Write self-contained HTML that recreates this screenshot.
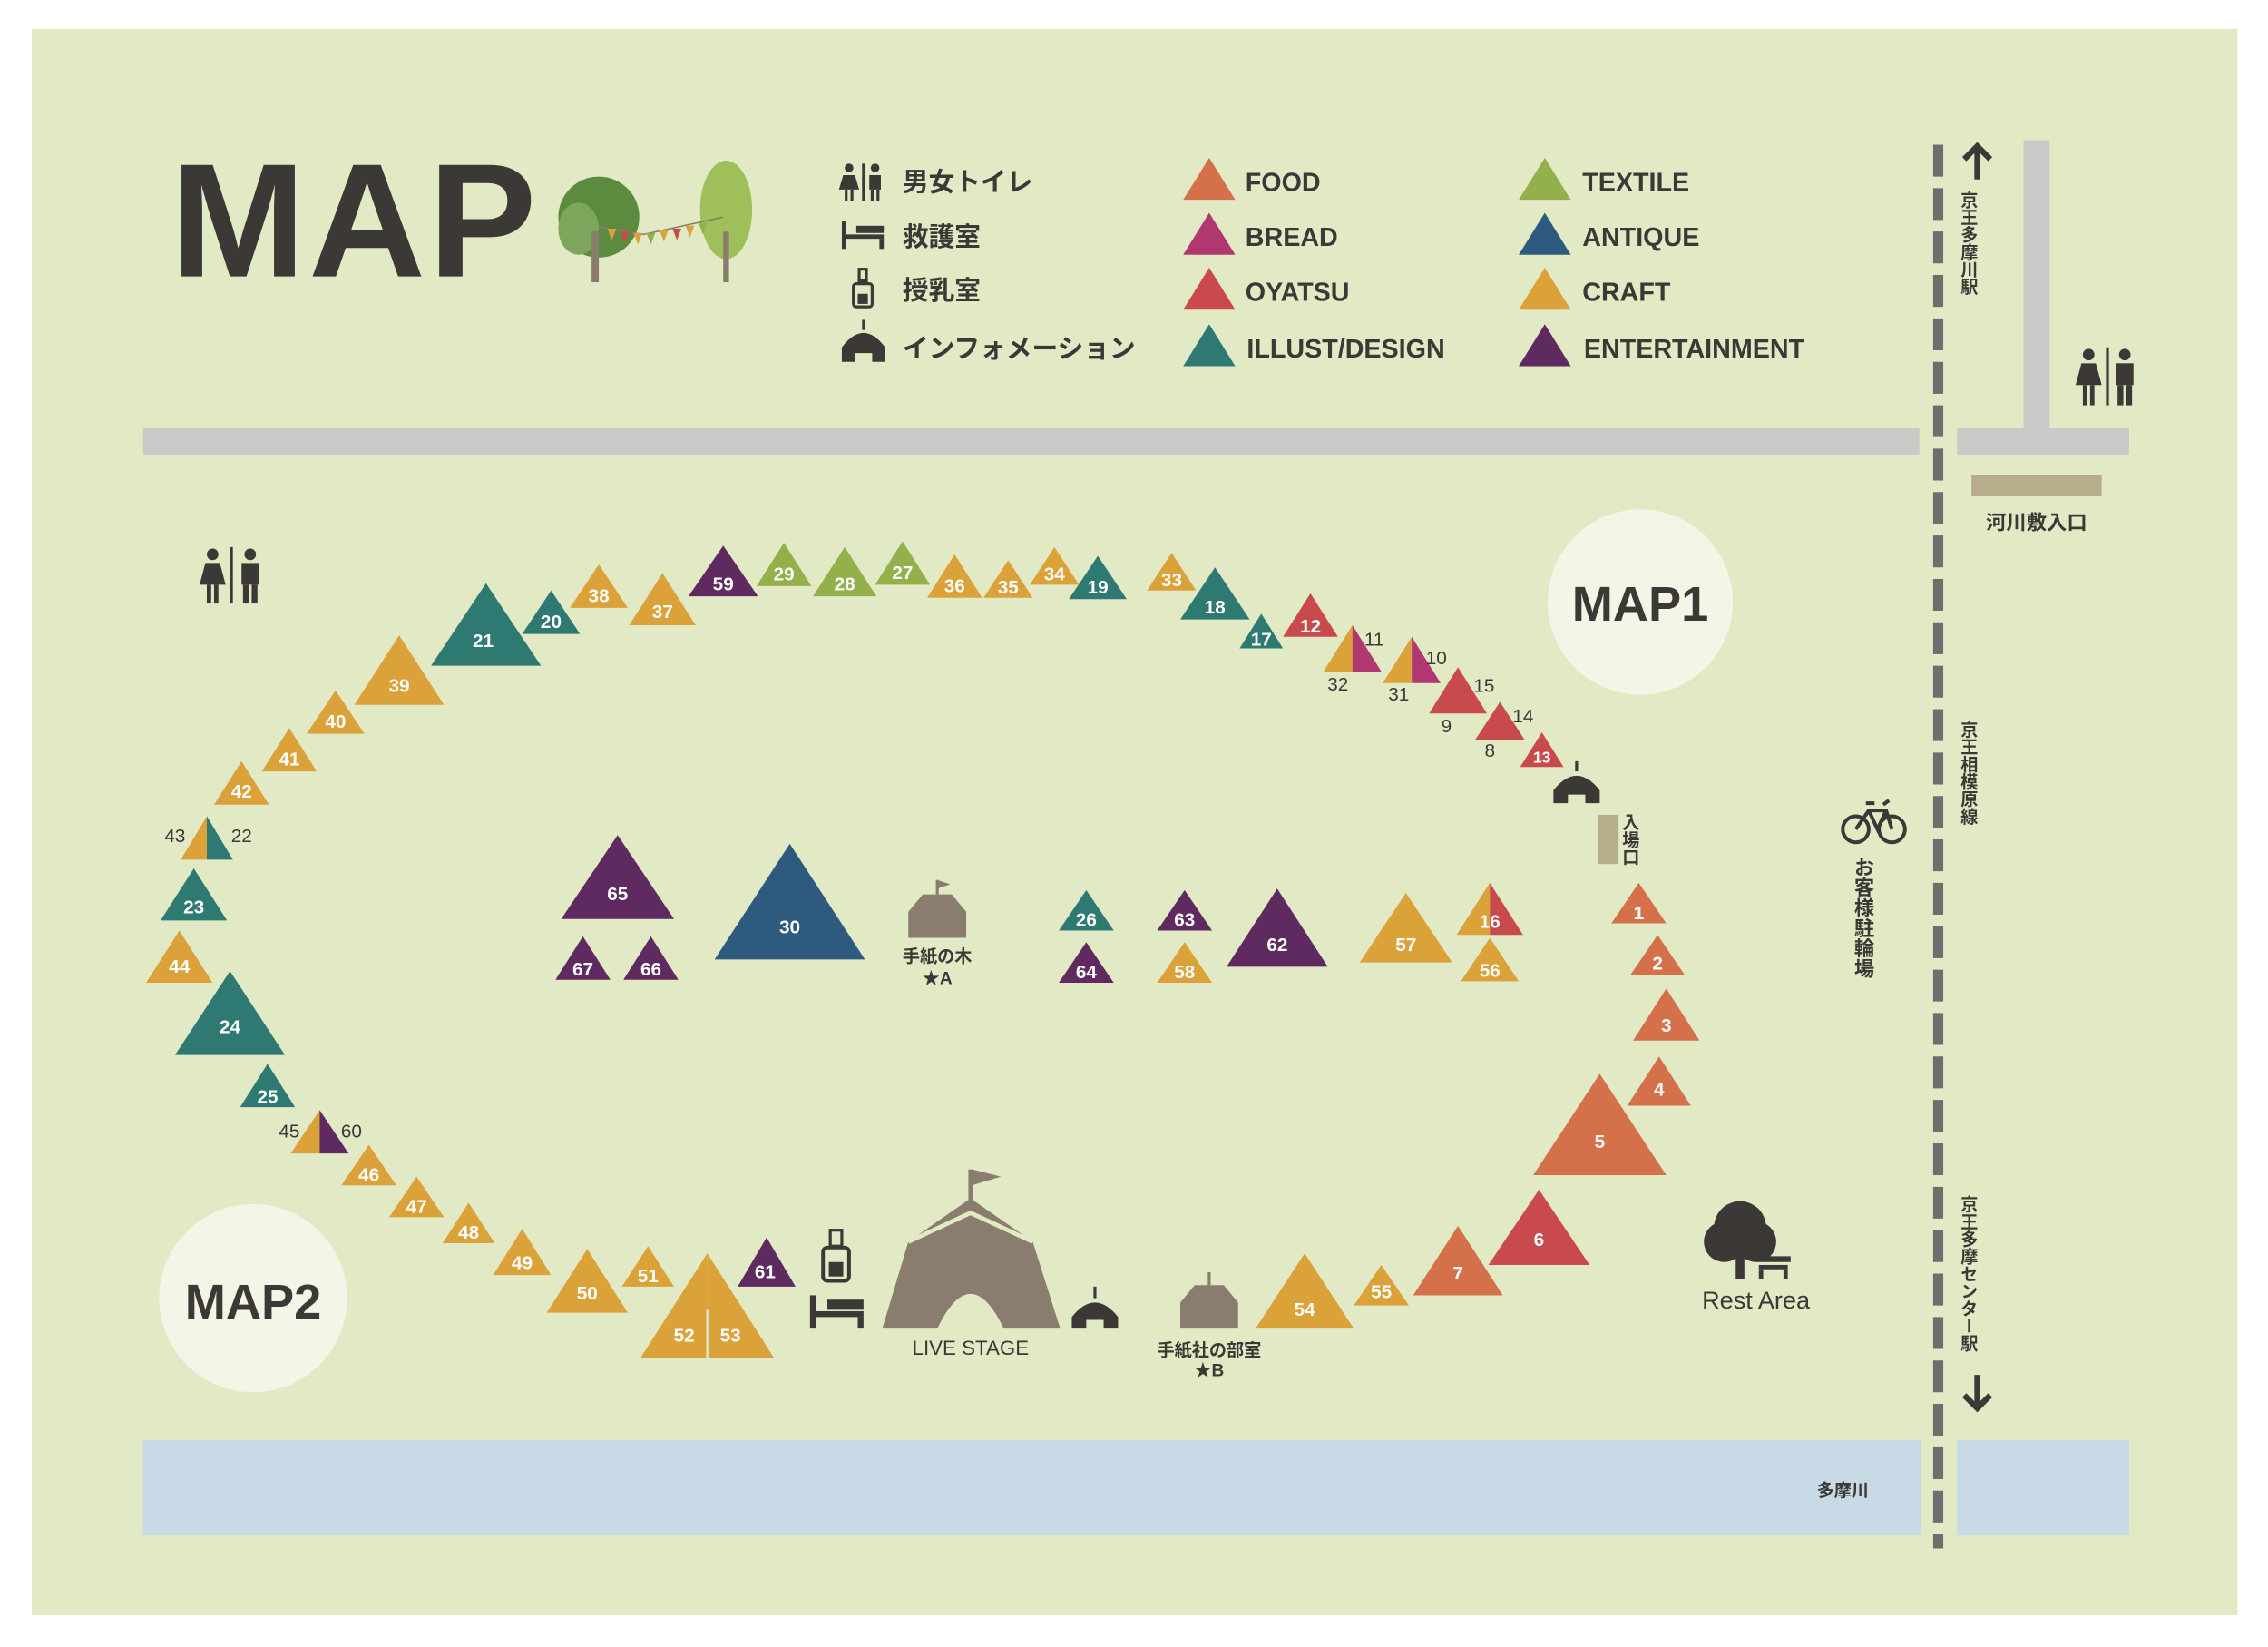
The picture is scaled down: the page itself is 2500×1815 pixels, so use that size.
<!DOCTYPE html>
<html><head><meta charset="utf-8"><style>
html,body{margin:0;padding:0;background:#fff}
svg{display:block}
text{font-family:"Liberation Sans","Noto Sans CJK JP",sans-serif}
.n{fill:#fff;font-size:13px;font-weight:bold;text-anchor:middle}
.o{fill:#3b3836;font-size:13px;text-anchor:middle}
.lg{fill:#3b3836;font-size:18px;font-weight:bold}
.vt{fill:#3b3836;font-size:12px;font-weight:bold;writing-mode:tb;glyph-orientation-vertical:0}
</style></head><body>
<svg width="2500" height="1815" viewBox="0 0 1568 1138" preserveAspectRatio="none" xmlns="http://www.w3.org/2000/svg">
<defs>
<symbol id="tent" viewBox="-50 -100 100 100" preserveAspectRatio="none" overflow="visible">
<polygon points="-50,0 0,-96 50,0"/>
</symbol>
</defs>
<rect x="0" y="0" width="1568" height="1138" fill="#fff"/>
<rect x="22" y="20" width="1525" height="1096" fill="#e1eac5"/>

<!-- roads -->
<rect x="99" y="296" width="1228" height="18" fill="#c9c9c7"/>
<rect x="1353" y="296" width="119" height="18" fill="#c9c9c7"/>
<rect x="1399" y="97" width="18" height="203" fill="#c9c9c7"/>
<rect x="1363" y="328" width="90" height="15" fill="#b7ad8c"/>
<text x="1408" y="366" class="lg" style="font-size:14px" text-anchor="middle">河川敷入口</text>
<!-- river -->
<rect x="99" y="995" width="1229" height="66" fill="#c8dae5"/>
<rect x="1353" y="995" width="119" height="66" fill="#c8dae5"/>
<text x="1274" y="1034" class="o" style="font-size:12px;font-weight:bold">多摩川</text>
<!-- rail -->
<line x1="1340" y1="100" x2="1340" y2="1070" stroke="#6e6e6e" stroke-width="7" stroke-dasharray="22 8"/>
<!-- arrows -->
<path d="M1367 124 V102 M1358 110 L1367 101 L1376 110" stroke="#3b3836" stroke-width="4" fill="none"/>
<text x="1360" y="132" class="vt">京王多摩川駅</text>
<text x="1360" y="498" class="vt">京王相模原線</text>
<text x="1360" y="826" class="vt">京王多摩センター駅</text>
<path d="M1367 950 V972 M1358 964 L1367 973 L1376 964" stroke="#3b3836" stroke-width="4" fill="none"/>

<!-- title -->
<text x="118" y="191" style="font-size:112px;font-weight:bold;fill:#3b3836;letter-spacing:2px">MAP</text>
<!-- trees -->
<ellipse cx="414" cy="150" rx="28" ry="28" fill="#5c8a3f"/>
<ellipse cx="400" cy="158" rx="14" ry="18" fill="#7da55b"/>
<rect x="409" y="160" width="5" height="35" fill="#8a7c6a"/>
<ellipse cx="502" cy="145" rx="18" ry="34" fill="#9fbf5a"/>
<rect x="500" y="160" width="4" height="35" fill="#8a7c6a"/>
<path d="M414 157 L445 162 L500 150" stroke="#8a7c6a" fill="none"/>
<g fill="#dca23a"><polygon points="420,158 426,158 423,166"/><polygon points="438,161 444,161 441,169"/><polygon points="456,159 462,159 459,167"/><polygon points="474,156 480,156 477,164"/></g>
<g fill="#c94a4d"><polygon points="429,160 435,160 432,168"/><polygon points="465,158 471,158 468,166"/></g>
<g fill="#94b04a"><polygon points="447,161 453,161 450,169"/><polygon points="483,154 489,154 486,162"/></g>

<!-- legend left -->
<g fill="#3b3836">
<circle cx="587" cy="116" r="3"/><polygon points="583,121 591,121 594,131 580,131"/><rect x="584" y="131" width="2" height="8"/><rect x="588" y="131" width="2" height="8"/>
<rect x="596" y="113" width="2" height="26"/>
<circle cx="605" cy="116" r="3"/><rect x="601" y="121" width="8" height="10"/><rect x="602" y="131" width="2" height="8"/><rect x="606" y="131" width="2" height="8"/>
<rect x="582" y="153" width="3" height="19"/><rect x="585" y="162" width="26" height="3"/><rect x="592" y="156" width="19" height="5"/><rect x="608" y="165" width="3" height="7"/>
<rect x="590" y="196" width="13" height="16" rx="2" fill="none" stroke="#3b3836" stroke-width="2"/><rect x="593" y="203" width="7" height="7"/><rect x="594" y="186" width="5" height="8" fill="none" stroke="#3b3836" stroke-width="2"/>
<path d="M582 250 V240 Q597 220 612 240 V250 H603 V244 H591 V250Z"/><line x1="597" y1="228" x2="597" y2="221" stroke="#3b3836" stroke-width="2"/>
</g>
<text x="624" y="132" class="lg">男女トイレ</text>
<text x="624" y="170" class="lg">救護室</text>
<text x="624" y="207" class="lg">授乳室</text>
<text x="624" y="247" class="lg">インフォメーション</text>

<!-- legend tents -->
<g>
<polygon points="818,138 836,109 854,138" fill="#d4714a"/><text x="861" y="132" class="lg">FOOD</text>
<polygon points="818,176 836,147 854,176" fill="#b0376f"/><text x="861" y="170" class="lg">BREAD</text>
<polygon points="818,214 836,185 854,214" fill="#c94a4d"/><text x="861" y="208" class="lg">OYATSU</text>
<polygon points="818,253 836,224 854,253" fill="#2e7a72"/><text x="862" y="247" class="lg">ILLUST/DESIGN</text>
<polygon points="1050,138 1068,109 1086,138" fill="#94b04a"/><text x="1094" y="132" class="lg">TEXTILE</text>
<polygon points="1050,176 1068,147 1086,176" fill="#2d5a7e"/><text x="1094" y="170" class="lg">ANTIQUE</text>
<polygon points="1050,214 1068,185 1086,214" fill="#dca23a"/><text x="1094" y="208" class="lg">CRAFT</text>
<polygon points="1050,253 1068,224 1086,253" fill="#5e2a5f"/><text x="1095" y="247" class="lg">ENTERTAINMENT</text>
</g>

<!-- toilets -->
<g fill="#3b3836">
<circle cx="1444" cy="245" r="4"/><polygon points="1439,251 1449,251 1453,266 1435,266"/><rect x="1440" y="266" width="3" height="14"/><rect x="1445" y="266" width="3" height="14"/>
<rect x="1456" y="240" width="2" height="40"/>
<circle cx="1469" cy="245" r="4"/><rect x="1463" y="251" width="12" height="15"/><rect x="1464" y="266" width="4" height="14"/><rect x="1470" y="266" width="4" height="14"/>
<circle cx="147" cy="383" r="4"/><polygon points="142,389 152,389 156,404 138,404"/><rect x="143" y="404" width="3" height="13"/><rect x="148" y="404" width="3" height="13"/>
<rect x="159" y="378" width="2" height="39"/>
<circle cx="173" cy="383" r="4"/><rect x="167" y="389" width="12" height="15"/><rect x="168" y="404" width="4" height="13"/><rect x="174" y="404" width="4" height="13"/>
</g>

<!-- MAP circles -->
<circle cx="1134" cy="416" r="64" fill="#f3f5e7"/>
<text x="1134" y="429" style="font-size:34px;font-weight:bold;fill:#3b3836" text-anchor="middle">MAP1</text>
<circle cx="175" cy="897" r="65" fill="#f3f5e7"/>
<text x="175" y="911" style="font-size:34px;font-weight:bold;fill:#3b3836" text-anchor="middle">MAP2</text>

<!-- tents: polygon(cx-w/2,b cx,b-h cx+w/2,b) -->
<g id="tents">
<!-- top arc -->
<polygon points="298,460 336,403 374,460" fill="#2e7a72"/><text x="334" y="447" class="n">21</text>
<polygon points="361,438 381,408 401,438" fill="#2e7a72"/><text x="381" y="434" class="n">20</text>
<polygon points="394,420 414,390 434,420" fill="#dca23a"/><text x="414" y="416" class="n">38</text>
<polygon points="435,432 458,396 481,432" fill="#dca23a"/><text x="458" y="427" class="n">37</text>
<polygon points="476,412 500,377 524,412" fill="#5e2a5f"/><text x="500" y="408" class="n">59</text>
<polygon points="523,405 542,375 561,405" fill="#94b04a"/><text x="542" y="401" class="n">29</text>
<polygon points="562,412 584,378 606,412" fill="#94b04a"/><text x="584" y="408" class="n">28</text>
<polygon points="605,404 624,374 643,404" fill="#94b04a"/><text x="624" y="400" class="n">27</text>
<polygon points="641,413 660,383 679,413" fill="#dca23a"/><text x="660" y="409" class="n">36</text>
<polygon points="680,413 697,387 714,413" fill="#dca23a"/><text x="697" y="410" class="n">35</text>
<polygon points="712,404 729,378 746,404" fill="#dca23a"/><text x="729" y="401" class="n">34</text>
<polygon points="739,414 759,384 779,414" fill="#2e7a72"/><text x="759" y="410" class="n">19</text>
<polygon points="793,408 810,382 827,408" fill="#dca23a"/><text x="810" y="405" class="n">33</text>
<polygon points="816,428 840,392 864,428" fill="#2e7a72"/><text x="840" y="424" class="n">18</text>
<polygon points="857,448 872,424 887,448" fill="#2e7a72"/><text x="872" y="446" class="n">17</text>
<polygon points="887,440 906,410 925,440" fill="#c94a4d"/><text x="906" y="437" class="n">12</text>
<polygon points="915,464 935,432 935,464" fill="#dca23a"/><polygon points="935,464 935,432 955,464" fill="#b0376f"/>
<text x="950" y="446" class="o">11</text><text x="925" y="477" class="o">32</text>
<polygon points="956,472 976,440 976,472" fill="#dca23a"/><polygon points="976,472 976,440 996,472" fill="#b0376f"/>
<text x="993" y="459" class="o">10</text><text x="967" y="484" class="o">31</text>
<polygon points="988,493 1008,461 1028,493" fill="#c94a4d"/><text x="1026" y="478" class="o">15</text><text x="1000" y="506" class="o">9</text>
<polygon points="1020,511 1037,485 1054,511" fill="#c94a4d"/><text x="1053" y="499" class="o">14</text><text x="1030" y="523" class="o">8</text>
<polygon points="1051,530 1066,506 1081,530" fill="#c94a4d"/><text x="1066" y="527" class="n" style="font-size:11px">13</text>
<!-- info hut -->
<path d="M1074 555 V546 Q1090 526 1106 546 V555 H1096 V549 H1084 V555Z" fill="#3b3836"/><line x1="1090" y1="533" x2="1090" y2="526" stroke="#3b3836" stroke-width="2"/>
<rect x="1105" y="563" width="14" height="34" fill="#b7ad8c"/>
<text x="1126" y="562" class="vt">入場口</text>
<!-- right column -->
<polygon points="1114,638 1133,610 1152,638" fill="#d4714a"/><text x="1133" y="635" class="n">1</text>
<polygon points="1127,674 1146,646 1165,674" fill="#d4714a"/><text x="1146" y="670" class="n">2</text>
<polygon points="1129,719 1152,683 1175,719" fill="#d4714a"/><text x="1152" y="713" class="n">3</text>
<polygon points="1125,764 1147,730 1169,764" fill="#d4714a"/><text x="1147" y="757" class="n">4</text>
<polygon points="1060,812 1106,742 1152,812" fill="#d4714a"/><text x="1106" y="793" class="n">5</text>
<polygon points="1029,874 1064,822 1099,874" fill="#c94a4d"/><text x="1064" y="861" class="n">6</text>
<polygon points="977,895 1008,847 1039,895" fill="#d4714a"/><text x="1008" y="884" class="n">7</text>
<polygon points="936,902 955,874 974,902" fill="#dca23a"/><text x="955" y="897" class="n">55</text>
<polygon points="868,918 902,866 936,918" fill="#dca23a"/><text x="902" y="909" class="n">54</text>
<!-- 手紙社の部室 -->
<path d="M816 918 V900 L826 888 H846 L856 900 V918Z" fill="#8a7c6e"/><line x1="836" y1="888" x2="836" y2="879" stroke="#8a7c6e" stroke-width="2"/>
<text x="836" y="937" class="o" style="font-weight:bold;font-size:12px">手紙社の部室</text>
<text x="836" y="951" class="o" style="font-weight:bold;font-size:12px">★B</text>
<path d="M741 918 V910 Q757 890 773 910 V918 H763 V912 H751 V918Z" fill="#3b3836"/><line x1="757" y1="897" x2="757" y2="889" stroke="#3b3836" stroke-width="2"/>
<!-- LIVE STAGE -->
<path d="M610 918 L628 858 L671 828 L714 858 L733 918 H694 Q671 870 648 918Z" fill="#8a7c6e"/>
<path d="M628 858 L671 838 L714 858" stroke="#e1eac5" stroke-width="3" fill="none"/>
<line x1="671" y1="830" x2="671" y2="808" stroke="#8a7c6e" stroke-width="3"/><polygon points="672,808 692,813 672,819" fill="#8a7c6e"/>
<text x="671" y="936" class="o" style="font-size:14px">LIVE STAGE</text>
<!-- bed, bottle -->
<g fill="#3b3836"><rect x="560" y="895" width="4" height="23"/><rect x="564" y="906" width="33" height="4"/><rect x="572" y="898" width="25" height="7"/><rect x="593" y="910" width="4" height="8"/></g>
<rect x="569" y="862" width="18" height="23" rx="3" fill="none" stroke="#3b3836" stroke-width="2.5"/><rect x="573" y="872" width="10" height="10" fill="#3b3836"/><rect x="574" y="850" width="8" height="11" fill="none" stroke="#3b3836" stroke-width="2"/>
<polygon points="510,889 530,855 550,889" fill="#5e2a5f"/><text x="529" y="883" class="n">61</text>
<polygon points="443,938 489,866 489,938" fill="#dca23a"/><polygon points="489,938 489,866 535,938" fill="#dca23a"/>
<line x1="489" y1="905" x2="489" y2="938" stroke="#e1eac5" stroke-width="1.5"/>
<text x="473" y="927" class="n">52</text><text x="505" y="927" class="n">53</text>
<polygon points="430,889 448,861 466,889" fill="#dca23a"/><text x="448" y="886" class="n">51</text>
<polygon points="378,907 406,863 434,907" fill="#dca23a"/><text x="406" y="898" class="n">50</text>
<polygon points="341,881 361,849 381,881" fill="#dca23a"/><text x="361" y="877" class="n">49</text>
<polygon points="306,859 324,831 342,859" fill="#dca23a"/><text x="324" y="856" class="n">48</text>
<polygon points="269,841 288,813 307,841" fill="#dca23a"/><text x="288" y="838" class="n">47</text>
<polygon points="236,819 255,791 274,819" fill="#dca23a"/><text x="255" y="816" class="n">46</text>
<polygon points="201,797 221,767 221,797" fill="#dca23a"/><polygon points="221,797 221,767 241,797" fill="#5e2a5f"/>
<text x="200" y="786" class="o">45</text><text x="243" y="786" class="o">60</text>
<polygon points="166,765 185,735 204,765" fill="#2e7a72"/><text x="185" y="762" class="n">25</text>
<polygon points="121,729 159,671 197,729" fill="#2e7a72"/><text x="159" y="714" class="n">24</text>
<polygon points="101,679 124,643 147,679" fill="#dca23a"/><text x="124" y="672" class="n">44</text>
<polygon points="111,636 134,600 157,636" fill="#2e7a72"/><text x="134" y="631" class="n">23</text>
<polygon points="125,594 143,564 143,594" fill="#dca23a"/><polygon points="143,594 143,564 161,594" fill="#2e7a72"/>
<text x="121" y="582" class="o">43</text><text x="167" y="582" class="o">22</text>
<polygon points="148,556 167,526 186,556" fill="#dca23a"/><text x="167" y="551" class="n">42</text>
<polygon points="181,533 200,503 219,533" fill="#dca23a"/><text x="200" y="529" class="n">41</text>
<polygon points="212,507 232,477 252,507" fill="#dca23a"/><text x="232" y="503" class="n">40</text>
<polygon points="245,487 276,439 307,487" fill="#dca23a"/><text x="276" y="478" class="n">39</text>
<!-- middle -->
<polygon points="388,635 427,577 466,635" fill="#5e2a5f"/><text x="427" y="622" class="n">65</text>
<polygon points="384,677 403,647 422,677" fill="#5e2a5f"/><text x="403" y="674" class="n">67</text>
<polygon points="431,677 450,647 469,677" fill="#5e2a5f"/><text x="450" y="674" class="n">66</text>
<polygon points="494,663 546,583 598,663" fill="#2d5a7e"/><text x="546" y="645" class="n">30</text>
<path d="M628 648 V630 L638 618 H658 L668 630 V648Z" fill="#8a7c6e"/><line x1="648" y1="618" x2="648" y2="608" stroke="#8a7c6e" stroke-width="2"/><polygon points="648,608 657,611 648,614" fill="#8a7c6e"/>
<text x="648" y="665" class="o" style="font-weight:bold;font-size:12px">手紙の木</text>
<text x="648" y="680" class="o" style="font-weight:bold;font-size:12px">★A</text>
<polygon points="732,643 751,615 770,643" fill="#2e7a72"/><text x="751" y="640" class="n">26</text>
<polygon points="732,679 751,651 770,679" fill="#5e2a5f"/><text x="751" y="676" class="n">64</text>
<polygon points="800,643 819,615 838,643" fill="#5e2a5f"/><text x="819" y="640" class="n">63</text>
<polygon points="800,679 819,651 838,679" fill="#dca23a"/><text x="819" y="676" class="n">58</text>
<polygon points="848,668 883,614 918,668" fill="#5e2a5f"/><text x="883" y="657" class="n">62</text>
<polygon points="940,665 972,617 1004,665" fill="#dca23a"/><text x="972" y="657" class="n">57</text>
<polygon points="1007,646 1030,610 1030,646" fill="#dca23a"/><polygon points="1030,646 1030,610 1053,646" fill="#c94a4d"/><text x="1030" y="641" class="n">16</text>
<polygon points="1010,678 1030,648 1050,678" fill="#dca23a"/><text x="1030" y="675" class="n">56</text>
</g>

<!-- bicycle -->
<g fill="none" stroke="#3b3836" stroke-width="2.5">
<circle cx="1283" cy="573" r="9"/><circle cx="1308" cy="573" r="9"/>
<path d="M1283 573 L1292 560 L1304 560 L1308 573 M1292 560 L1298 573 L1304 560 M1290 555 H1296 M1302 556 L1306 553"/>
</g>
<text x="1288" y="592" class="vt" style="font-size:14px">お客様駐輪場</text>
<!-- rest area -->
<circle cx="1203" cy="848" r="18" fill="#3b3836"/><circle cx="1192" cy="858" r="14" fill="#3b3836"/><circle cx="1214" cy="858" r="14" fill="#3b3836"/>
<rect x="1200" y="860" width="6" height="24" fill="#3b3836"/>
<g fill="#3b3836"><rect x="1214" y="868" width="24" height="4"/><rect x="1216" y="874" width="20" height="3"/><rect x="1216" y="877" width="3" height="7"/><rect x="1233" y="877" width="3" height="7"/></g>
<text x="1214" y="904" class="o" style="font-size:17px">Rest Area</text>
</svg>
</body></html>
